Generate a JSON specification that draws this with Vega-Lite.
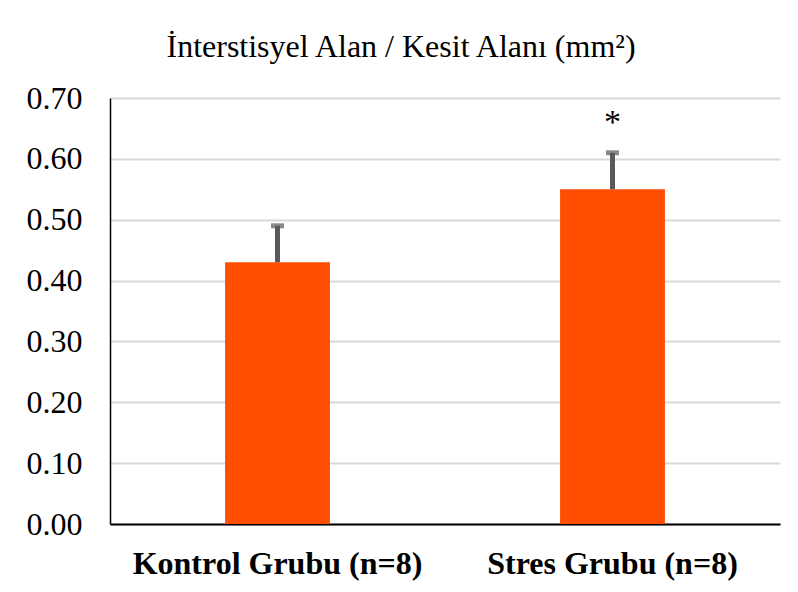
{
  "$schema": "https://vega.github.io/schema/vega-lite/v6.json",
  "width": 670,
  "height": 426,
  "autosize": "none",
  "padding": {"left": 110, "top": 98, "right": 18, "bottom": 68},
  "background": "white",
  "title": {
    "text": "İnterstisyel Alan / Kesit Alanı (mm²)",
    "font": "Liberation Serif",
    "fontSize": 32,
    "fontWeight": "normal",
    "color": "#000000",
    "anchor": "middle",
    "dx": -44,
    "offset": 18
  },
  "data": {
    "values": [
      {"grup": "Kontrol Grubu (n=8)", "deger": 0.43, "ust": 0.49, "isaret": ""},
      {"grup": "Stres Grubu (n=8)", "deger": 0.55, "ust": 0.61, "isaret": "*"}
    ]
  },
  "encoding": {
    "x": {
      "field": "grup",
      "type": "nominal",
      "sort": null,
      "scale": {"paddingInner": 0.687, "paddingOuter": 0.3435},
      "axis": {
        "title": null,
        "labelAngle": 0,
        "labelFontSize": 32,
        "labelFontWeight": "bold",
        "labelColor": "#000000",
        "labelPadding": 24,
        "labelLimit": 0,
        "ticks": false,
        "domainColor": "#000000",
        "domainWidth": 2,
        "grid": false
      }
    }
  },
  "layer": [
    {
      "mark": {"type": "bar", "color": "#FF4E00"},
      "encoding": {
        "y": {
          "field": "deger",
          "type": "quantitative",
          "scale": {"domain": [0, 0.7], "nice": false},
          "axis": {
            "title": null,
            "values": [0, 0.1, 0.2, 0.3, 0.4, 0.5, 0.6, 0.7],
            "format": ".2f",
            "labelFontSize": 32,
            "labelColor": "#000000",
            "labelPadding": 28,
            "ticks": false,
            "domainColor": "#000000",
            "domainWidth": 1.5,
            "gridColor": "#D9D9D9",
            "gridWidth": 2
          }
        }
      }
    },
    {
      "mark": {"type": "rule", "color": "#595959", "strokeWidth": 5},
      "encoding": {
        "y": {"field": "deger", "type": "quantitative"},
        "y2": {"field": "ust"}
      }
    },
    {
      "mark": {"type": "tick", "color": "#595959", "size": 13, "thickness": 5, "orient": "horizontal"},
      "encoding": {
        "y": {"field": "ust", "type": "quantitative"}
      }
    },
    {
      "mark": {"type": "text", "fontSize": 34, "color": "#000000", "baseline": "middle", "dy": 4},
      "encoding": {
        "y": {"datum": 0.665, "type": "quantitative"},
        "text": {"field": "isaret"}
      }
    }
  ],
  "config": {
    "font": "Liberation Serif",
    "axis": {"labelFont": "Liberation Serif"},
    "text": {"font": "Liberation Serif"},
    "view": {"stroke": null}
  }
}
